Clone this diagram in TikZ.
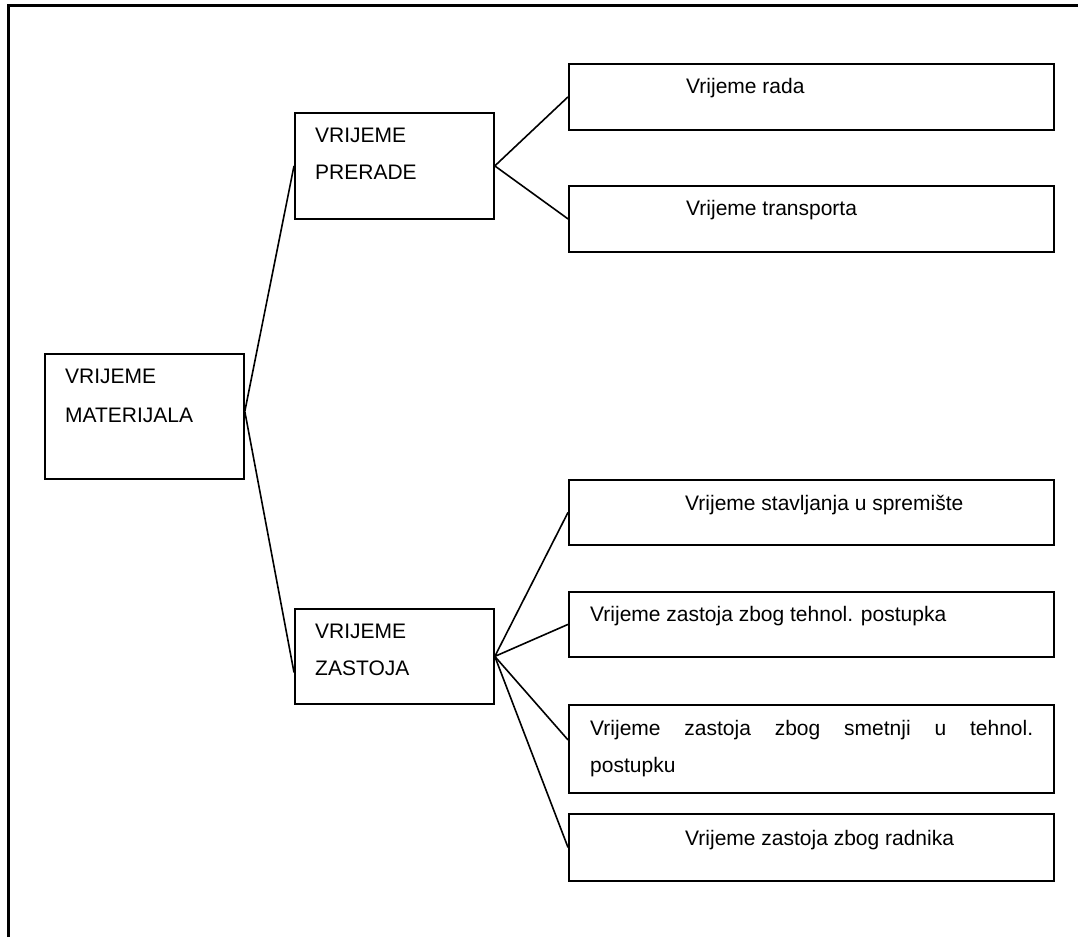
\documentclass[tikz,border=0pt]{standalone}
\usepackage{fontspec}
\setmainfont{Liberation Sans}
\usetikzlibrary{positioning,calc}
\tikzset{
  blok/.style={draw=black, line width=1.8pt, inner sep=0pt, anchor=north west,
    minimum width=485pt},
  glavni/.style={blok, minimum width=199pt},
  natpis/.style={inner sep=0pt, anchor=base west, align=left,
    font=\fontsize{21}{37}\selectfont},
  veza/.style={draw=black, line width=1.6pt},
  okvir/.style={draw=black, line width=3pt}
}

\begin{document}
\begin{tikzpicture}[x=1pt, y=-1pt]
    \useasboundingbox (0,0) rectangle (1078,937);
    \draw[okvir] (8,937) -- (8,5) -- (1078,5);
    % lijevi stupac
    \node[glavni, minimum height=125pt] (mat) at (44,353) {};
    \node[glavni, minimum height=106pt] (prer) at (294,112) {};
    \node[glavni, minimum height=95pt] (zast) at (294,608) {};
    \node[natpis, font=\fontsize{21}{39}\selectfont] (tmat) at (65,422) {VRIJEME\\MATERIJALA};
    \node[natpis] (tprer) at (315,179) {VRIJEME\\PRERADE};
    \node[natpis] (tzast) at (315,675) {VRIJEME\\ZASTOJA};
    % desni stupac
    \node[blok, minimum height=66pt] (rada) at (568,63) {};
    \node[blok, minimum height=66pt] (trans) at (568,185) {};
    \node[blok, minimum height=65pt] (sprem) at (568,479) {};
    \node[blok, minimum height=65pt] (tehn) at (568,591) {};
    \node[blok, minimum height=88pt] (smet) at (568,704) {};
    \node[blok, minimum height=67pt] (radn) at (568,813) {};
    \node[natpis] (trada) at (686,93) {Vrijeme rada};
    \node[natpis] (ttrans) at (686,215) {Vrijeme transporta};
    \node[natpis] (tsprem) at (685,510) {Vrijeme stavljanja u spremište};
    \node[natpis] (ttehn) at (590,621) {Vrijeme zastoja zbog tehnol. postupka};
    \node[natpis] (tsmet) at (590,772)
      {\makebox[443pt][s]{Vrijeme zastoja zbog smetnji u tehnol.}\\postupku};
    \node[natpis] (tradn) at (685,845) {Vrijeme zastoja zbog radnika};
    % veze
    \coordinate (mj) at ($(mat.east)+(0,-5)$);
    \draw[veza] (prer.west) -- (mj) -- ($(zast.west)+(0,16)$);
    \draw[veza] (rada.west) -- (prer.east) -- (trans.west);
    \draw[veza] (sprem.west) -- (zast.east) -- (tehn.west);
    \draw[veza] (zast.east) -- ($(smet.west)+(0,-9)$);
    \draw[veza] (zast.east) -- (radn.west);
\end{tikzpicture}
\end{document}
